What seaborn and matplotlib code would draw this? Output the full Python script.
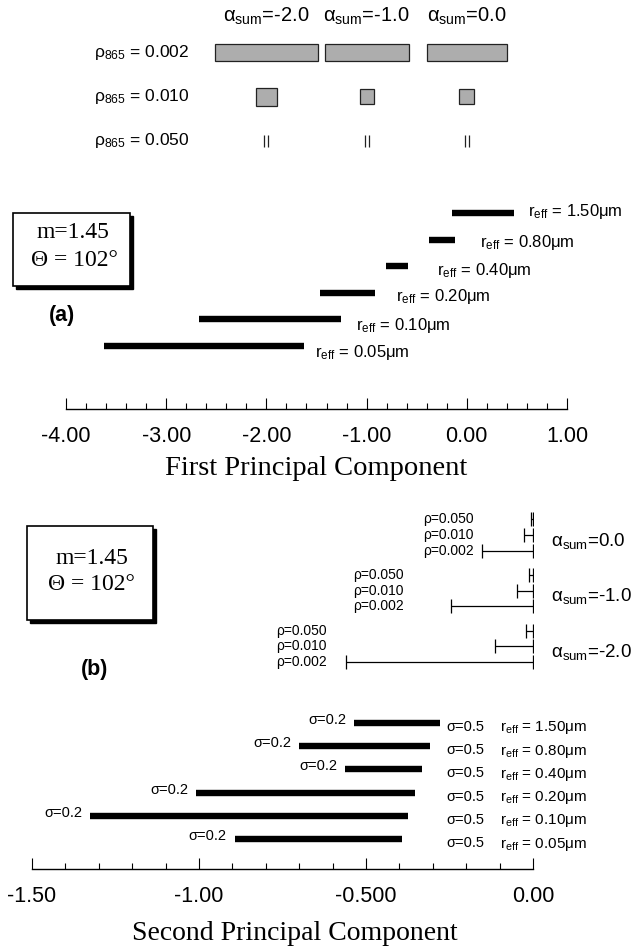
import numpy as np
import matplotlib
matplotlib.use("Agg")
import matplotlib.pyplot as plt
from matplotlib.patches import Rectangle
import seaborn as sns

# key at the top: spread of each alpha_sum / rho_865 combination
alpha_sum = [-2.0, -1.0, 0.0]
rho_865 = [0.002, 0.010, 0.050]
key_width = [[1.03, 0.84, 0.80],     # first PC spread, rho = 0.002
             [0.21, 0.14, 0.15],     # rho = 0.010
             [0.04, 0.04, 0.04]]     # rho = 0.050
key_height = [[0.39, 0.39, 0.39],
              [0.41, 0.34, 0.34],
              [0.27, 0.27, 0.27]]

# panel (a): first principal component range per r_eff
r_eff = [0.05, 0.10, 0.20, 0.40, 0.80, 1.50]
pc1_lo = [-3.62, -2.67, -1.465, -0.806, -0.377, -0.148]
pc1_hi = [-1.625, -1.26, -0.916, -0.587, -0.118, 0.471]

# panel (b): second principal component, sigma=0.2 end and sigma=0.5 end
pc2_lo = [-0.893, -1.326, -1.009, -0.563, -0.700, -0.536]
pc2_hi = [-0.393, -0.375, -0.353, -0.333, -0.309, -0.278]
# rho error bars (rho 0.002, 0.010, 0.050) for alpha_sum -2, -1, 0
pc2_rho = [[-0.560, -0.113, -0.020],
           [-0.245, -0.048, -0.012],
           [-0.153, -0.028, -0.006]]

sns.set_theme(style="white")
plt.rcParams["font.family"] = ["Liberation Sans", "DejaVu Sans"]
plt.rcParams["mathtext.fontset"] = "custom"
plt.rcParams["mathtext.rm"] = "Liberation Sans"
plt.rcParams["mathtext.it"] = "Liberation Sans:italic"
plt.rcParams["mathtext.bf"] = "Liberation Sans:bold"
plt.rcParams["text.color"] = "black"
plt.rcParams["axes.labelcolor"] = "black"
plt.rcParams["xtick.color"] = "black"

W, H = 638, 949
fig = plt.figure(figsize=(W / 100, H / 100), dpi=100)
fig.patch.set_facecolor("white")


def px_box(x0, y_top, x1, y_bot):
    return [x0 / W, 1 - y_bot / H, (x1 - x0) / W, (y_bot - y_top) / H]


ax_key = fig.add_axes(px_box(66, 0, 567, 165))
ax_a = fig.add_axes(px_box(66, 195, 567, 409))
ax_b = fig.add_axes(px_box(32, 500, 533, 869))

serif = "Liberation Serif"

# ---- key ----
ax_key.set_xlim(-4, 1)
ax_key.set_ylim(2.545, -1.2)
ax_key.axis("off")
for i, rho in enumerate(rho_865):
    ax_key.text(-3.72, i, "ρ$_{865}$ = %.3f" % rho, ha="left", va="center", fontsize=12.5)
    for j, a in enumerate(alpha_sum):
        w, h = key_width[i][j], key_height[i][j]
        if rho < 0.05:
            ax_key.add_patch(Rectangle((a - w / 2, i - h / 2), w, h, facecolor="#adadad",
                                       edgecolor="#222222", lw=0.9))
        else:
            ax_key.vlines([a - w / 2, a + w / 2], i - h / 2, i + h / 2, color="#222222", lw=0.9)
for a in alpha_sum:
    ax_key.text(a, -0.82, "α$_\\mathrm{sum}$=%.1f" % a, ha="center", va="center", fontsize=14.5)

# ---- panel (a) ----
rows = np.arange(len(r_eff))
ax_a.hlines(rows, pc1_lo, pc1_hi, color="black", lw=4.6)
label_off_a = [(11, -7), (15, -6), (21, -4), (29, -4), (25, -3), (14, 2)]
for k, r in enumerate(r_eff):
    dx, dy = label_off_a[k]
    ax_a.annotate("r$_\\mathrm{eff}$ = %.2fμm" % r, (pc1_hi[k], k),
                  xytext=(dx * 0.72, dy * 0.72), textcoords="offset points",
                  ha="left", va="center", fontsize=12)
ax_a.set_xlim(-4, 1)
ax_a.set_ylim(-2.37, 5.68)
ax_a.set_xticks(np.arange(-4, 1.01, 1.0))
ax_a.set_xticklabels(["%.2f" % v for v in np.arange(-4, 1.01, 1.0)])
ax_a.set_xticks(np.arange(-4, 1.01, 0.2), minor=True)

# ---- panel (b) ----
ax_b.hlines(rows, pc2_lo, pc2_hi, color="black", lw=4.6)
for k, r in enumerate(r_eff):
    ax_b.annotate("σ=0.2", (pc2_lo[k], k), xytext=(-8 * 0.72, 3 * 0.72),
                  textcoords="offset points", ha="right", va="center", fontsize=10.5)
    ax_b.annotate("σ=0.5", (-0.2605, k), xytext=(0, -4 * 0.72),
                  textcoords="offset points", ha="left", va="center", fontsize=10.5)
    ax_b.annotate("r$_\\mathrm{eff}$ = %.2fμm" % r, (-0.099, k), xytext=(0, -5 * 0.72),
                  textcoords="offset points", ha="left", va="center", fontsize=11)

rho_label_x = [-0.617, -0.386, -0.177]
for g, a in enumerate(alpha_sum):
    base = 8.3 + 2.4 * g
    for k, rho in enumerate(rho_865):
        y = base - 0.68 + 0.68 * k
        v = pc2_rho[g][k]
        ax_b.errorbar(v / 2, y, xerr=-v / 2, fmt="none", ecolor="black",
                      elinewidth=0.9, capsize=5, capthick=0.9)
        ax_b.text(rho_label_x[g], y, "ρ=%.3f" % rho, ha="right", va="center", fontsize=10)
    ax_b.text(0.054, base - 0.25, "α$_\\mathrm{sum}$=%.1f" % a, ha="left", va="center",
              fontsize=13.5)
ax_b.set_xlim(-1.5, 0)
ax_b.set_ylim(-1.29, 14.6)
ax_b.set_xticks([-1.5, -1.0, -0.5, 0.0])
ax_b.set_xticklabels(["-1.50", "-1.00", "-0.500", "0.00"])
ax_b.set_xticks(np.arange(-1.5, 0.01, 0.1), minor=True)

for ax in (ax_a, ax_b):
    sns.despine(ax=ax, left=True)
    ax.set_facecolor("none")
    ax.set_yticks([])
    ax.spines["bottom"].set_linewidth(1.0)
    ax.spines["bottom"].set_color("black")
    ax.tick_params(axis="x", which="major", direction="in", length=7.9, width=0.8,
                   color="black", labelcolor="black", pad=12, labelsize=15.5, bottom=True)
    ax.tick_params(axis="x", which="minor", direction="in", length=4.3, width=0.8,
                   color="black", bottom=True)

ax_a.set_xlabel("First Principal Component", fontsize=20.5, family=serif)
ax_a.xaxis.label.set_va("center")
ax_a.xaxis.set_label_coords(0.5, -0.28)
ax_b.set_xlabel("Second Principal Component", fontsize=20, family=serif)
ax_b.xaxis.label.set_va("center")
ax_b.xaxis.set_label_coords(0.525, -0.175)

# ---- parameter boxes and panel tags ----
for (x0, yt, x1, yb), lines in [((13, 213, 130, 286), [(73, 233), (74, 260)]),
                                 ((27, 526, 153, 620), [(92, 559), (91, 584)])]:
    shadow = Rectangle(((x0 + 3) / W, 1 - (yb + 3) / H), (x1 - x0) / W, (yb - yt) / H,
                       transform=fig.transFigure, facecolor="black", edgecolor="black")
    box = Rectangle((x0 / W, 1 - yb / H), (x1 - x0) / W, (yb - yt) / H,
                    transform=fig.transFigure, facecolor="white", edgecolor="black", lw=1.2)
    fig.add_artist(shadow)
    fig.add_artist(box)
    for txt, (tx, ty) in zip(["m=1.45", "Θ = 102°"], lines):
        fig.text(tx / W, 1 - ty / H, txt, ha="center", va="center", fontsize=17, family=serif)

fig.text(62 / W, 1 - 315 / H, "(a)", ha="center", va="center", fontsize=15.5, fontweight="bold")
fig.text(95 / W, 1 - 670 / H, "(b)", ha="center", va="center", fontsize=15.5, fontweight="bold")

fig.savefig("out.png", dpi=100, facecolor="white")
